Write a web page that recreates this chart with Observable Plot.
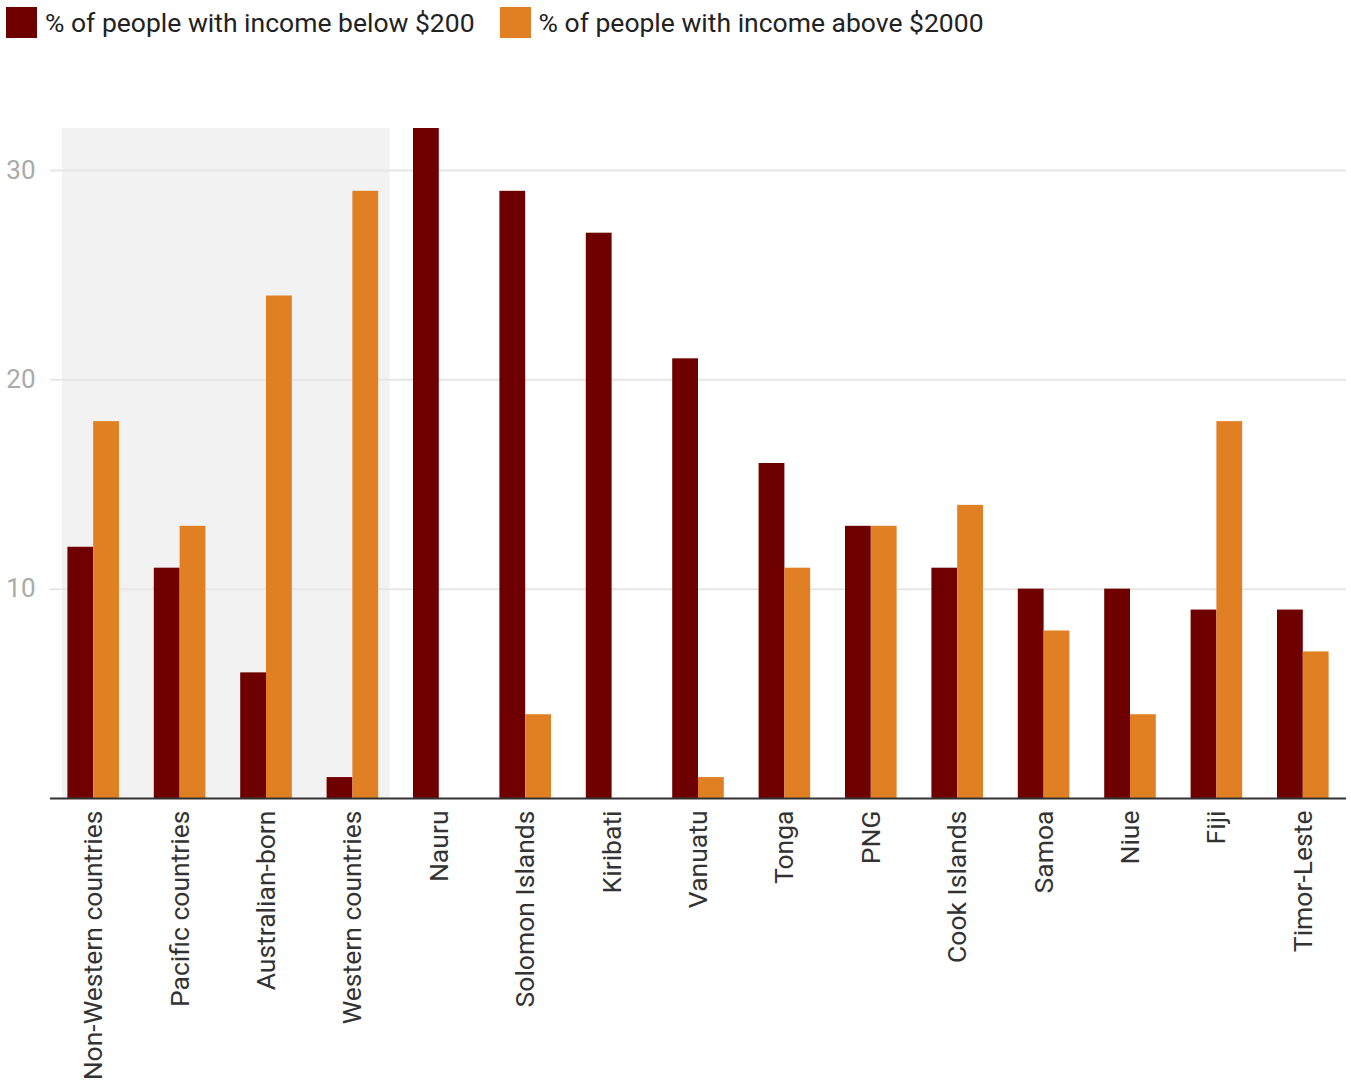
<!DOCTYPE html>
<html>
<head>
<meta charset="utf-8">
<script src="https://cdn.jsdelivr.net/npm/d3@7"></script>
<script src="https://cdn.jsdelivr.net/npm/@observablehq/plot@0.6"></script>
<style>
  body { margin: 0; background: #fff; font-family: Roboto, sans-serif; }
  #legend { height: 44px; box-sizing: border-box; padding: 0 0 0 6px; display: flex; align-items: center; font-size: 26.5px; color: #222; }
  #legend .item { display: flex; align-items: center; margin-right: 25px; height: 31px; }
  #legend .sw { width: 31px; height: 31px; margin-right: 8px; }
  #chart svg { display: block; }
</style>
</head>
<body>
<div id="legend"></div>
<div id="chart"></div>
<script>
const categories = ["Non-Western countries", "Pacific countries", "Australian-born", "Western countries", "Nauru", "Solomon Islands", "Kiribati", "Vanuatu", "Tonga", "PNG", "Cook Islands", "Samoa", "Niue", "Fiji", "Timor-Leste"];
const below200 = [12, 11, 6, 1, 32, 29, 27, 21, 16, 13, 11, 10, 10, 9, 9];
const above2000 = [18, 13, 24, 29, 0, 4, 0, 1, 11, 13, 14, 8, 4, 18, 7];
const seriesNames = ["% of people with income below $200", "% of people with income above $2000"];
const seriesColors = ["#6f0000", "#e08023"];
const highlighted = ["Non-Western countries", "Western countries"];
const yTicks = [10, 20, 30];
const yMax = 32;

const legend = document.getElementById("legend");
seriesNames.forEach((n, i) => {
  const it = document.createElement("div");
  it.className = "item";
  it.innerHTML = `<div class="sw" style="background:${seriesColors[i]}"></div><span>${n}</span>`;
  legend.appendChild(it);
});

const rows = categories.map((c, i) => ({category: c, below: below200[i], above: above2000[i]}));

const background = (index, scales, values, dims) => {
  const x = scales.x, y = scales.y;
  const step = x(categories[1]) - x(categories[0]);
  const x0 = x(highlighted[0]) + 12;
  const x1 = x(highlighted[1]) + step - 6;
  const r = d3.create("svg:rect")
    .attr("x", x0).attr("width", x1 - x0)
    .attr("y", y(yMax)).attr("height", y(0) - y(yMax))
    .attr("fill", "#f2f2f2");
  return r.node();
};

const plot = Plot.plot({
  width: 1351,
  height: 1039,
  marginTop: 84,
  marginBottom: 285,
  marginLeft: 50,
  marginRight: 5,
  style: {fontFamily: "Roboto, sans-serif", fontSize: "26px", background: "#fff"},
  x: {type: "band", domain: categories, padding: 0, round: false, axis: null},
  y: {domain: [0, yMax], axis: null},
  marks: [
    background,
    Plot.gridY(yTicks, {stroke: "#e6e6e6", strokeOpacity: 1, strokeWidth: 2}),
    Plot.axisY(yTicks, {tickSize: 0, tickPadding: 15, fill: "#aaa", fontSize: 26, label: null}),
    Plot.barY(rows, {x: "category", y: "below", fill: seriesColors[0], insetLeft: 17.4, insetRight: 43.2}),
    Plot.barY(rows, {x: "category", y: "above", fill: seriesColors[1], insetLeft: 43.2, insetRight: 17.4}),
    Plot.ruleY([0], {stroke: "#333", strokeWidth: 2}),
    Plot.axisX({tickSize: 0, tickPadding: 12, tickRotate: -90, fill: "#333", fontSize: 26.5, label: null})
  ]
});
document.getElementById("chart").appendChild(plot);
</script>
</body>
</html>
